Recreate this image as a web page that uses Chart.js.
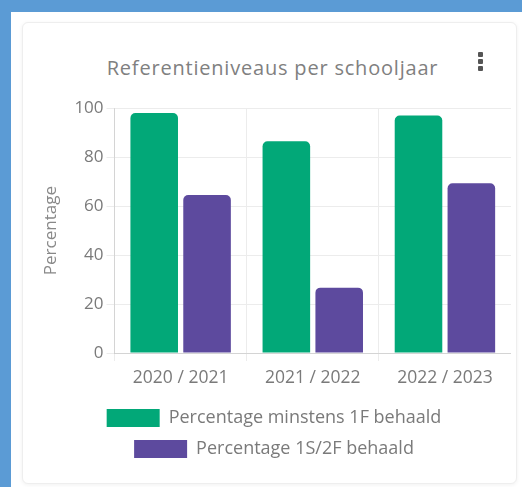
<!DOCTYPE html>
<html>
<head>
<meta charset="utf-8">
<script src="https://cdn.jsdelivr.net/npm/chart.js@4"></script>
<style>
  html, body { margin: 0; padding: 0; }
  body { width: 522px; height: 487px; background: #5b9bd5; position: relative; overflow: hidden; font-family: "Open Sans", sans-serif; }
  .achter { position: absolute; left: 11px; top: 12px; right: 0; bottom: 0; background: #fff; }
  .kaart { position: absolute; left: 22px; top: 22px; width: 495px; height: 462px; background: #fff;
           border: 1px solid #eeeeee; border-radius: 6px; box-shadow: 0 1px 4px rgba(0,0,0,0.06); box-sizing: border-box; }
  .titel { position: absolute; left: 6px; right: 0; top: 31px; text-align: center; color: #808080; font-size: 20px; letter-spacing: 0.8px; line-height: 28px; }
  .menu { position: absolute; left: 455px; top: 29px; width: 6px; }
  .menu span { display: block; width: 5px; height: 5px; background: #555; border-radius: 1px; margin-bottom: 2px; }
  .grafiek { position: absolute; left: 8px; top: 72px; width: 480px; height: 373px; }
</style>
</head>
<body>
<div class="achter"></div>
<div class="kaart">
  <div class="titel">Referentieniveaus per schooljaar</div>
  <div class="menu"><span></span><span></span><span></span></div>
  <div class="grafiek"><canvas id="grafiek"></canvas></div>
</div>
<script>
var schooljaren = ["2020 / 2021", "2021 / 2022", "2022 / 2023"];
var minstens1F = [98, 86.5, 97];
var niveau1S2F = [64.5, 26.7, 69.3];
var yTicks = [0, 20, 40, 60, 80, 100];

var ctx = document.getElementById("grafiek").getContext("2d");

new Chart(ctx, {
  type: "bar",
  data: {
    labels: schooljaren,
    datasets: [{
      label: "Percentage minstens 1F behaald",
      data: minstens1F,
      backgroundColor: "#02a878",
      borderRadius: 5,
      borderSkipped: "bottom"
    }, {
      label: "Percentage 1S/2F behaald",
      data: niveau1S2F,
      backgroundColor: "#5d4a9e",
      borderRadius: 5,
      borderSkipped: "bottom"
    }]
  },
  options: {
    responsive: true,
    maintainAspectRatio: false,
    animation: false,
    layout: { padding: { left: 6 } },
    plugins: {
      legend: {
        position: "bottom",
        labels: {
          boxWidth: 53,
          boxHeight: 18,
          padding: 13,
          color: "#7a7a7a",
          font: { family: "Open Sans", size: 18 }
        }
      },
      tooltip: { enabled: false }
    },
    scales: {
      x: {
        grid: { color: "#ececec" },
        ticks: { color: "#7a7a7a", padding: 7, font: { family: "Open Sans", size: 17.5 } }
      },
      y: {
        min: 0,
        max: 100,
        afterBuildTicks: function (as) {
          as.ticks = yTicks.map(function (v) { return { value: v }; });
        },
        grid: { color: "#ececec" },
        ticks: { color: "#7a7a7a", font: { family: "Open Sans", size: 17 } },
        title: { display: true, text: "Percentage", color: "#888", padding: { top: 4, bottom: 10 }, font: { family: "Open Sans", size: 17 } }
      }
    }
  }
});
</script>
</body>
</html>
